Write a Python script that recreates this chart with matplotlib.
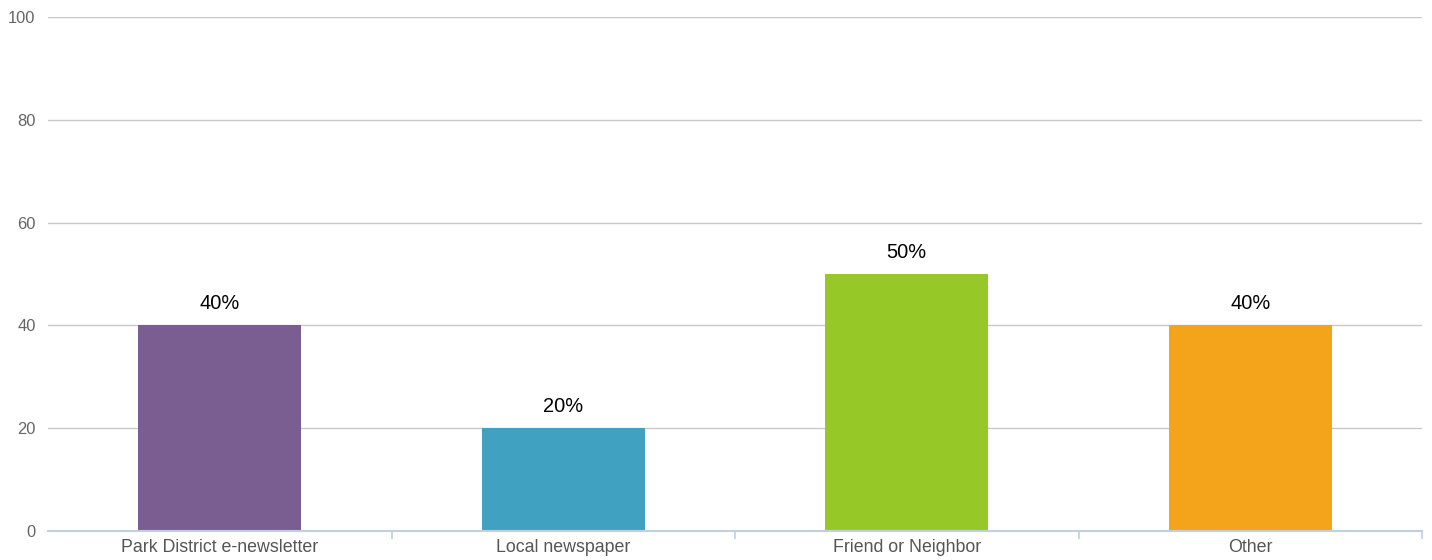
import matplotlib
matplotlib.use("Agg")
import matplotlib.pyplot as plt

categories = ["Park District e-newsletter", "Local newspaper", "Friend or Neighbor", "Other"]
values = [40, 20, 50, 40]
colors = ["#7B5E91", "#41A1C1", "#96C828", "#F4A41B"]
yticks = [0, 20, 40, 60, 80, 100]

plt.rcParams['font.family'] = ['Liberation Sans', 'DejaVu Sans']

fig = plt.figure(figsize=(14.32, 5.6), dpi=100)
ax = fig.add_axes([48 / 1432, 1 - 531 / 560, (1422 - 48) / 1432, (531 - 17) / 560])

x = range(len(categories))
bars = ax.bar(x, values, width=0.475, color=colors, zorder=3)

# data labels
for b, v in zip(bars, values):
    ax.annotate(f"{v}%", (b.get_x() + b.get_width() / 2, v), xytext=(0, 9),
                textcoords="offset points", ha="center", va="bottom",
                fontsize=14.4, color="black")

ax.set_xlim(-0.5, len(categories) - 0.5)
ax.set_ylim(0, 100)
ax.set_yticks(yticks)
ax.set_yticklabels([str(t) for t in yticks], fontsize=11.9, color="#666666")
ax.yaxis.grid(True, color="#C8C8C8", linewidth=1, zorder=0)
ax.tick_params(axis="y", length=0, pad=9)

ax.set_xticks(list(x))
ax.set_xticklabels(categories, fontsize=12.8, color="#555555")
ax.tick_params(axis="x", which="major", length=0, pad=6)
ax.set_xticks([i + 0.5 for i in x], minor=True)
ax.tick_params(axis="x", which="minor", length=6, width=1.2, color="#C0D0E0", direction="out")

for s in ["top", "right", "left"]:
    ax.spines[s].set_visible(False)
ax.spines["bottom"].set_color("#C0D0E0")
ax.spines["bottom"].set_linewidth(1.5)
ax.spines["bottom"].set_zorder(4)

fig.savefig("out.png", dpi=100)
